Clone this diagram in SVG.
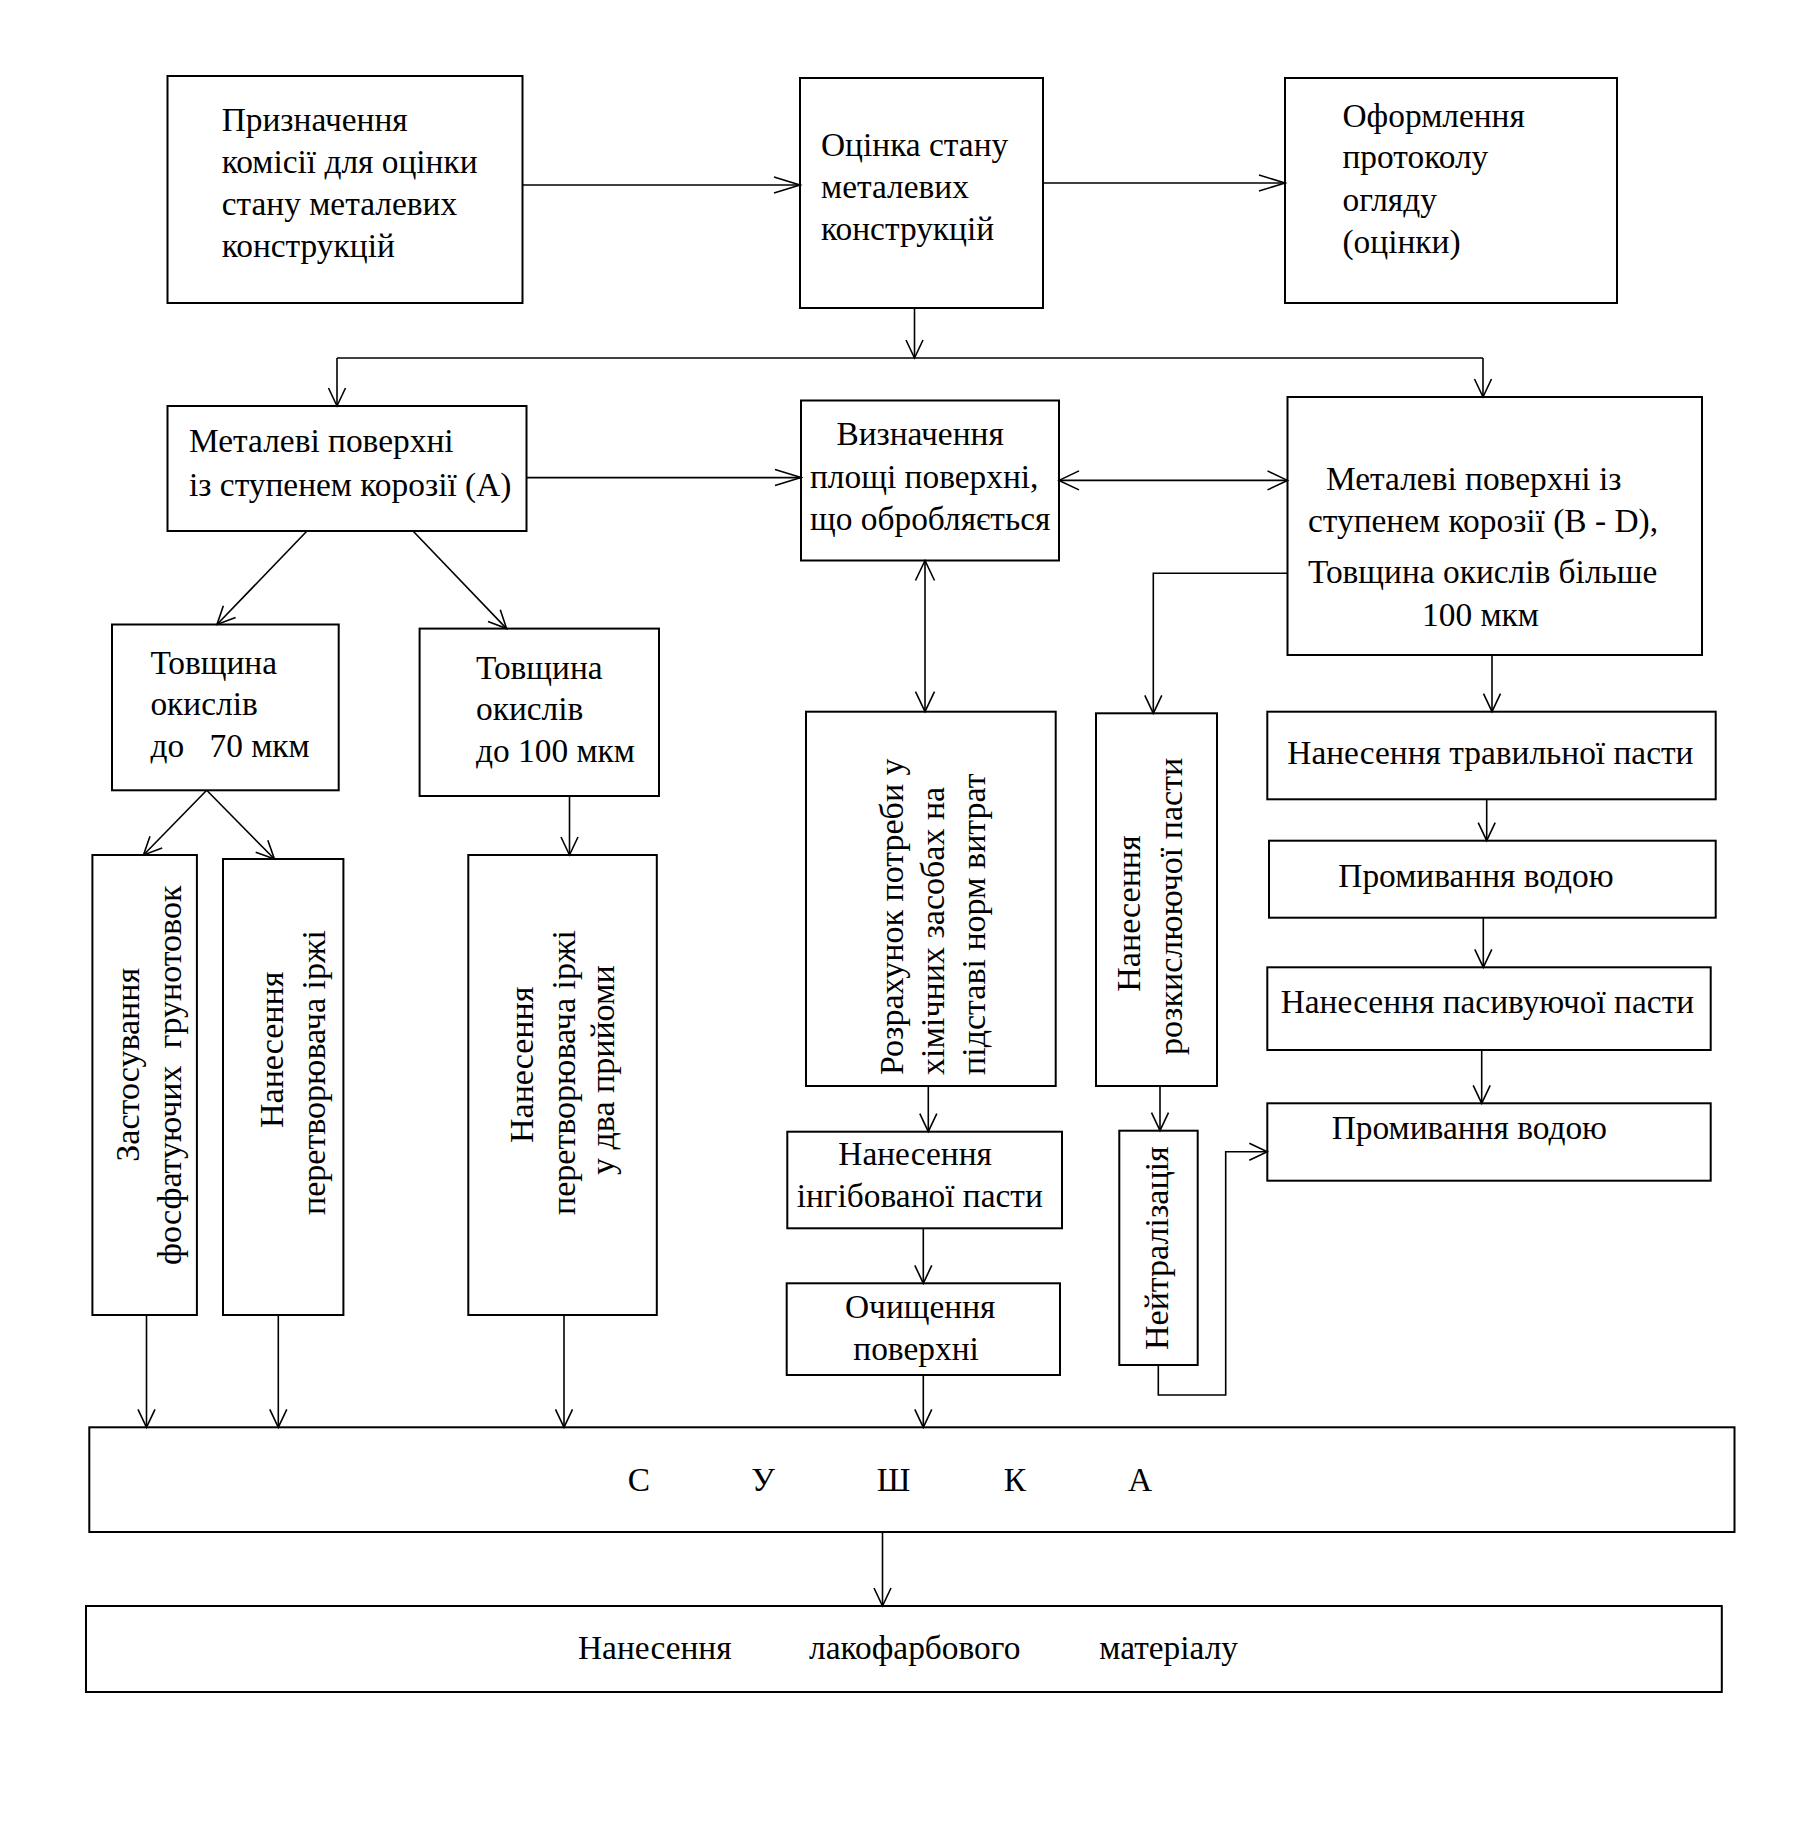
<svg xmlns="http://www.w3.org/2000/svg" width="1807" height="1839" viewBox="0 0 1807 1839">
<style>
.box{fill:none;stroke:#000;stroke-width:2}
.ln{fill:none;stroke:#000;stroke-width:1.6}
text{font-family:"Liberation Serif","Times New Roman",serif;font-size:33.4px;fill:#000}
text.r{font-size:34px}
</style>
<defs>
<marker id="ah" markerUnits="userSpaceOnUse" viewBox="-30 -12 32 24" refX="0" refY="0" markerWidth="32" markerHeight="24" orient="auto" overflow="visible"><path d="M-26,-8 L0,0 L-26,8" fill="none" stroke="#000" stroke-width="1.6"/></marker>
<marker id="av" markerUnits="userSpaceOnUse" viewBox="-22 -12 24 24" refX="0" refY="0" markerWidth="24" markerHeight="24" orient="auto" overflow="visible"><path d="M-18,-8.5 L0,0 L-18,8.5" fill="none" stroke="#000" stroke-width="1.6"/></marker>
<marker id="ad" markerUnits="userSpaceOnUse" viewBox="-24 -12 26 24" refX="0" refY="0" markerWidth="26" markerHeight="24" orient="auto-start-reverse" overflow="visible"><path d="M-20,-9.5 L0,0 L-20,9.5" fill="none" stroke="#000" stroke-width="1.6"/></marker>
</defs>
<rect x="0" y="0" width="1807" height="1839" fill="#fff"/>

<g id="connectors">
<path class="ln" d="M523,185 H800" marker-end="url(#ah)"/>
<path class="ln" d="M1043,183 H1285" marker-end="url(#ah)"/>
<path class="ln" d="M914.5,308 V358" marker-end="url(#av)"/>
<path class="ln" d="M337,358 H1483"/>
<path class="ln" d="M337,358 V406" marker-end="url(#av)"/>
<path class="ln" d="M1483,358 V397" marker-end="url(#av)"/>
<path class="ln" d="M526.5,477.6 H801" marker-end="url(#ah)"/>
<path class="ln" d="M1059,480.4 H1287.5" marker-start="url(#ad)" marker-end="url(#ad)"/>
<path class="ln" d="M925,560.5 V711.7" marker-start="url(#ad)" marker-end="url(#ad)"/>
<path class="ln" d="M1287.5,573.3 H1153.3 V713.3" marker-end="url(#av)"/>
<path class="ln" d="M1492,655 V711.7" marker-end="url(#av)"/>
<path class="ln" d="M1486.7,799.3 V840.7" marker-end="url(#av)"/>
<path class="ln" d="M1483.3,917.7 V967.3" marker-end="url(#av)"/>
<path class="ln" d="M1481.7,1050 V1103.3" marker-end="url(#av)"/>
<path class="ln" d="M307,531 L217,624.5" marker-end="url(#av)"/>
<path class="ln" d="M413,531 L506.6,628.6" marker-end="url(#av)"/>
<path class="ln" d="M206.7,790.3 L143.5,855" marker-end="url(#av)"/>
<path class="ln" d="M206.7,790.3 L274.4,859" marker-end="url(#av)"/>
<path class="ln" d="M569.5,796 V855" marker-end="url(#av)"/>
<path class="ln" d="M146.5,1315 V1427.3" marker-end="url(#av)"/>
<path class="ln" d="M278.3,1315 V1427.3" marker-end="url(#av)"/>
<path class="ln" d="M564,1315 V1427.3" marker-end="url(#av)"/>
<path class="ln" d="M928.3,1086 V1131.7" marker-end="url(#av)"/>
<path class="ln" d="M923.3,1228.3 V1283.3" marker-end="url(#av)"/>
<path class="ln" d="M923.3,1375 V1427.3" marker-end="url(#av)"/>
<path class="ln" d="M1160,1086 V1130.7" marker-end="url(#av)"/>
<path class="ln" d="M1158.3,1365 V1395 H1225.7 V1151.7 H1267.3" marker-end="url(#av)"/>
<path class="ln" d="M882.5,1532 V1606" marker-end="url(#av)"/>
</g>

<g id="n1">
<rect class="box" x="167.5" y="76" width="355" height="227"/>
<text x="221.7" y="131">Призначення</text>
<text x="221.7" y="173">комісії для оцінки</text>
<text x="221.7" y="215">стану металевих</text>
<text x="221.7" y="257">конструкцій</text>
</g>
<g id="n2">
<rect class="box" x="800" y="78" width="243" height="230"/>
<text x="821" y="156">Оцінка стану</text>
<text x="821" y="198">металевих</text>
<text x="821" y="239.5">конструкцій</text>
</g>
<g id="n3">
<rect class="box" x="1285" y="78" width="332" height="225"/>
<text x="1342.5" y="126.5">Оформлення</text>
<text x="1342.5" y="168">протоколу</text>
<text x="1342.5" y="211">огляду</text>
<text x="1342.5" y="253">(оцінки)</text>
</g>
<g id="n4">
<rect class="box" x="167.5" y="406" width="359" height="125"/>
<text x="189" y="452">Металеві поверхні</text>
<text x="189" y="496">із ступенем корозії (A)</text>
</g>
<g id="n5">
<rect class="box" x="801" y="400.5" width="258" height="160"/>
<text x="836.4" y="445">Визначення</text>
<text x="810" y="488">площі поверхні,</text>
<text x="810" y="530">що обробляється</text>
</g>
<g id="n6">
<rect class="box" x="1287.5" y="397" width="414.5" height="258"/>
<text x="1326" y="490">Металеві поверхні із</text>
<text x="1308" y="532">ступенем корозії (B - D),</text>
<text x="1308" y="583">Товщина окислів більше</text>
<text x="1422" y="625.5">100 мкм</text>
</g>
<g id="n7">
<rect class="box" x="112" y="624.5" width="226.7" height="165.8"/>
<text x="150.4" y="674">Товщина</text>
<text x="150.4" y="715">окислів</text>
<text x="150.4" y="757">до</text>
<text x="209.5" y="757">70 мкм</text>
</g>
<g id="n8">
<rect class="box" x="419.6" y="628.6" width="239.4" height="167.4"/>
<text x="476" y="679">Товщина</text>
<text x="476" y="720">окислів</text>
<text x="476" y="762">до 100 мкм</text>
</g>
<g id="n9">
<rect class="box" x="92.4" y="855" width="104.5" height="460"/>
<text class="r" transform="translate(139.4,1161.7) rotate(-90)">Застосування</text>
<text class="r" xml:space="preserve" transform="translate(180.8,1265) rotate(-90)">фосфатуючих  грунотовок</text>
</g>
<g id="n10">
<rect class="box" x="223" y="859" width="120.4" height="456"/>
<text class="r" transform="translate(283.2,1128) rotate(-90)">Нанесення</text>
<text class="r" transform="translate(324.5,1215) rotate(-90)">перетворювача іржі</text>
</g>
<g id="n11">
<rect class="box" x="468.3" y="855" width="188.5" height="460"/>
<text class="r" transform="translate(533.3,1143) rotate(-90)">Нанесення</text>
<text class="r" transform="translate(574.7,1215) rotate(-90)">перетворювача іржі</text>
<text class="r" transform="translate(614,1175) rotate(-90)">у два прийоми</text>
</g>
<g id="n12">
<rect class="box" x="806" y="711.7" width="249.7" height="374.3"/>
<text class="r" transform="translate(902.7,1075) rotate(-90)">Розрахунок потреби у</text>
<text class="r" transform="translate(944,1075) rotate(-90)">хімічних засобах на</text>
<text class="r" transform="translate(985,1075) rotate(-90)">підставі норм витрат</text>
</g>
<g id="n13">
<rect class="box" x="1096" y="713.3" width="121" height="372.7"/>
<text class="r" transform="translate(1140,991.7) rotate(-90)">Нанесення</text>
<text class="r" transform="translate(1181.7,1055) rotate(-90)">розкислюючої пасти</text>
</g>
<g id="n14">
<rect class="box" x="1267.3" y="711.7" width="448.4" height="87.6"/>
<text x="1287.3" y="764">Нанесення травильної пасти</text>
</g>
<g id="n15">
<rect class="box" x="1269" y="840.7" width="446.7" height="77"/>
<text x="1338.3" y="886.7">Промивання водою</text>
</g>
<g id="n16">
<rect class="box" x="1267.3" y="967.3" width="443.4" height="82.7"/>
<text x="1280.7" y="1012.7">Нанесення пасивуючої пасти</text>
</g>
<g id="n17">
<rect class="box" x="1267.3" y="1103.3" width="443.4" height="77.4"/>
<text x="1331.7" y="1139.3">Промивання водою</text>
</g>
<g id="n18">
<rect class="box" x="787.3" y="1131.7" width="274.7" height="96.6"/>
<text x="838.3" y="1165">Нанесення</text>
<text x="796.7" y="1206.7">інгібованої пасти</text>
</g>
<g id="n19">
<rect class="box" x="786.7" y="1283.3" width="273.3" height="91.7"/>
<text x="845" y="1318.3">Очищення</text>
<text x="853.3" y="1360">поверхні</text>
</g>
<g id="n20">
<rect class="box" x="1119.3" y="1130.7" width="78.4" height="234.3"/>
<text class="r" transform="translate(1168.3,1350) rotate(-90)">Нейтралізація</text>
</g>
<g id="n21">
<rect class="box" x="89.3" y="1427.3" width="1645.2" height="104.7"/>
<text x="639" y="1490.7" text-anchor="middle">С</text>
<text x="763" y="1490.7" text-anchor="middle">У</text>
<text x="893.5" y="1490.7" text-anchor="middle">Ш</text>
<text x="1015" y="1490.7" text-anchor="middle">К</text>
<text x="1140" y="1490.7" text-anchor="middle">А</text>
</g>
<g id="n22">
<rect class="box" x="86" y="1606" width="1635.8" height="86"/>
<text x="578" y="1659.3">Нанесення</text>
<text x="809" y="1659.3">лакофарбового</text>
<text x="1099.3" y="1659.3">матеріалу</text>
</g>
</svg>
